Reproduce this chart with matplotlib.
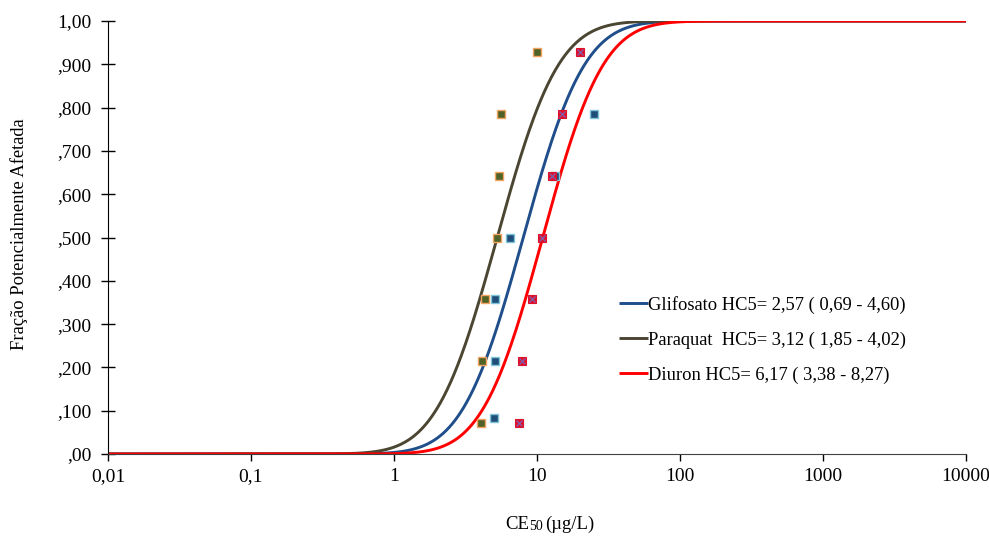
import numpy as np
import matplotlib
matplotlib.use("Agg")
import matplotlib.pyplot as plt
from math import erf

plt.rcParams['font.family'] = ['Liberation Serif', 'DejaVu Serif']

# Fitted log-normal SSD parameters (log10 mean, log10 sd)
curve_names = ["Glifosato", "Paraquat", "Diuron"]
curve_mu = [0.904, 0.722, 1.040]
curve_sigma = [0.336, 0.336, 0.332]
curve_colors = ["#1F4E8A", "#4A4632", "#FF0000"]
legend_labels = ["Glifosato HC5= 2,57 ( 0,69 - 4,60)",
                 "Paraquat  HC5= 3,12 ( 1,85 - 4,02)",
                 "Diuron HC5= 6,17 ( 3,38 - 8,27)"]

# Observed points
glif_x = [5.0, 5.11, 5.11, 6.48, 13.4, 24.9]
glif_y = [0.082, 0.214, 0.357, 0.500, 0.643, 0.786]
para_x = [4.04, 4.12, 4.33, 5.23, 5.42, 5.60, 10.0]
para_y = [0.071, 0.214, 0.357, 0.500, 0.643, 0.786, 0.929]
diur_x = [7.52, 7.82, 9.27, 10.8, 12.7, 15.0, 20.1]
diur_y = [0.071, 0.214, 0.357, 0.500, 0.643, 0.786, 0.929]

x_ticks = [0.01, 0.1, 1, 10, 100, 1000, 10000]
x_ticklabels = ["0,01", "0,1", "1", "10", "100", "1000", "10000"]
y_ticks = [0.0, 0.1, 0.2, 0.3, 0.4, 0.5, 0.6, 0.7, 0.8, 0.9, 1.0]
y_ticklabels = [",00", ",100", ",200", ",300", ",400", ",500", ",600", ",700", ",800", ",900", "1,00"]

fig = plt.figure(figsize=(9.89, 5.36), dpi=100)
ax = fig.add_axes([0.1092, 0.153, 0.8675, 0.8078])

xs = np.logspace(-2, 4, 1200)
lines = []
for mu, sd, c, lab in zip(curve_mu, curve_sigma, curve_colors, legend_labels):
    z = (np.log10(xs) - mu) / (sd * np.sqrt(2))
    ys = 0.5 * (1 + np.array([erf(v) for v in z]))
    ln, = ax.plot(xs, ys, color=c, lw=2.1, label=lab, solid_capstyle='butt')
    lines.append(ln)

ax.plot(glif_x, glif_y, ls='none', marker='s', ms=5.5, mfc='#1F4E79', mec='#7FC4D8', mew=1.0, zorder=5)
ax.plot(para_x, para_y, ls='none', marker='s', ms=5.5, mfc='#4F6228', mec='#F4A460', mew=1.0, zorder=5)
ax.plot(diur_x, diur_y, ls='none', marker='s', ms=5.5, mfc='#E0102A', mec='#E0102A', mew=0.8, zorder=5)
ax.plot(diur_x, diur_y, ls='none', marker='x', ms=4.5, mec='#7F5FB0', mew=0.9, zorder=6)

ax.set_xscale('log')
ax.set_xlim(0.01, 10000)
ax.set_ylim(0, 1.0)
ax.set_xticks(x_ticks)
ax.set_xticklabels(x_ticklabels)
ax.xaxis.set_minor_locator(matplotlib.ticker.NullLocator())
ax.set_yticks(y_ticks)
ax.set_yticklabels(y_ticklabels)
ax.tick_params(axis='y', direction='inout', length=10, width=1, pad=7, labelsize=14)
ax.tick_params(axis='x', direction='out', length=5, width=1, pad=5, labelsize=14)
for s in ['top', 'right']:
    ax.spines[s].set_visible(False)
ax.spines['left'].set_color('black')
ax.spines['bottom'].set_color('#404040')
ax.patch.set_alpha(0)

fig.text(0.019, 0.563, "Fração Potencialmente Afetada", rotation=90,
         ha='center', va='center', fontsize=13.3)

t1 = fig.text(0.511, 0.0125, "CE", ha='left', va='baseline', fontsize=13.5)
t2 = ax.annotate("50", xy=(1, 0), xycoords=t1, xytext=(0, 0.3), textcoords='offset points',
                 ha='left', va='bottom', fontsize=10, annotation_clip=False)
t3 = ax.annotate("(µg/L)", xy=(1, 0), xycoords=t2, xytext=(1.5, -0.3), textcoords='offset points',
                 ha='left', va='bottom', fontsize=13.5, annotation_clip=False)

leg = fig.legend(handles=lines, loc='center left', bbox_to_anchor=(0.617, 0.366),
                 frameon=False, fontsize=13.3, handlelength=1.55, handletextpad=0.0,
                 labelspacing=0.95, borderpad=0)

fig.savefig("out.png", dpi=100)
